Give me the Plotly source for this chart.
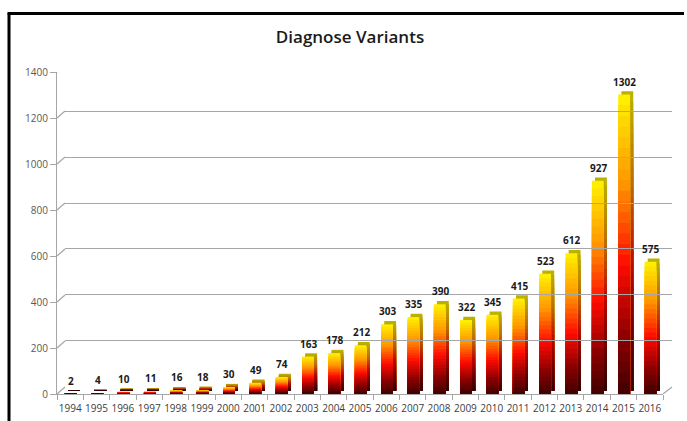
import plotly.graph_objects as go

years = list(range(1994, 2017))
counts = [2, 4, 10, 11, 16, 18, 30, 49, 74, 163, 178, 212, 303, 335, 390, 322, 345, 415, 523, 612, 927, 1302, 575]
y_ticks = [0, 200, 400, 600, 800, 1000, 1200, 1400]
title_text = "Diagnose Variants"

W, H = 687, 421
N = 28  # gradient steps

front_stops = [(0.0, (58, 0, 0)), (0.2, (135, 0, 0)), (0.45, (255, 12, 0)),
               (0.72, (255, 150, 0)), (1.0, (255, 238, 0))]


def grad(f, stops, k=1.0):
    for (f0, c0), (f1, c1) in zip(stops[:-1], stops[1:]):
        if f0 <= f <= f1:
            t = (f - f0) / (f1 - f0)
            c = [int((a + (b - a) * t) * k) for a, b in zip(c0, c1)]
            return "rgb(%d,%d,%d)" % tuple(c)
    c = stops[-1][1]
    return "rgb(%d,%d,%d)" % tuple(int(v * k) for v in c)


fig = go.Figure()

BW = 0.45
FRONT_OFF = -0.2
SIDE_OFF = FRONT_OFF + 0.12
SIDE_BASE = 14

# side (depth) faces
for i in range(N):
    f = (N - i) / N
    fig.add_trace(go.Bar(
        x=years, y=[v * f for v in counts], base=SIDE_BASE,
        width=BW, offset=SIDE_OFF,
        marker=dict(color=grad(f, front_stops, 0.74), line=dict(width=0)),
        hoverinfo="skip", showlegend=False))

# front faces
for i in range(N):
    f = (N - i) / N
    fig.add_trace(go.Bar(
        x=years, y=[v * f for v in counts],
        width=BW, offset=FRONT_OFF,
        marker=dict(color=grad(f, front_stops), line=dict(width=0)),
        hoverinfo="skip", showlegend=False))

# invisible trace for back-plane grid axes
fig.add_trace(go.Scatter(x=[0.5], y=[0], xaxis="x2", yaxis="y2", mode="markers",
                         marker=dict(opacity=0), hoverinfo="skip", showlegend=False))

annotations = [dict(x=yr, y=v, xref="x", yref="y", text="<b>%d</b>" % v, showarrow=False,
                    yshift=13, xshift=1, font=dict(family="Open Sans", size=10, color="#1a1a1a"))
               for yr, v in zip(years, counts)]

shapes = []
# 3D diagonal connectors on left wall
for v in y_ticks:
    shapes.append(dict(type="line", xref="paper", yref="y", xsizemode="pixel", ysizemode="pixel",
                       xanchor=57 / W, yanchor=v, x0=0, x1=8, y0=0, y1=7,
                       line=dict(color="#a6a6a6", width=1.2)))
# right floor diagonal
shapes.append(dict(type="line", xref="paper", yref="y", xsizemode="pixel", ysizemode="pixel",
                   xanchor=663 / W, yanchor=0, x0=0, x1=9, y0=0, y1=7,
                   line=dict(color="#a6a6a6", width=1.2)))
# outer frame (left and top edges)
shapes.append(dict(type="line", xref="paper", yref="paper", x0=9 / W, x1=9 / W,
                   y0=-0.05, y1=1 - 13.5 / H, line=dict(color="black", width=3)))
shapes.append(dict(type="line", xref="paper", yref="paper", x0=7.5 / W, x1=684 / W,
                   y0=1 - 13.5 / H, y1=1 - 13.5 / H, line=dict(color="black", width=3)))

fig.update_layout(
    width=W, height=H,
    margin=dict(l=0, r=0, t=0, b=0, pad=0, autoexpand=False),
    paper_bgcolor="white", plot_bgcolor="rgba(0,0,0,0)",
    barmode="overlay",
    title=dict(text=title_text, x=350 / W, xanchor="center", y=1 - 37 / H, yanchor="middle",
               font=dict(family="Open Sans", size=17, color="#1a1a1a", weight=600)),
    xaxis=dict(domain=[57 / W, 663 / W], anchor="y", range=[1993.5, 2016.5],
               tickvals=years, ticks="", ticklen=0, ticklabelstandoff=5,
               showline=True, linecolor="#a6a6a6", linewidth=1.2,
               minor=dict(tick0=1993.5, dtick=1, ticks="outside", ticklen=5,
                          tickcolor="#a6a6a6", showgrid=False),
               tickfont=dict(family="Open Sans", size=10, color="#404040"),
               tickangle=0, showgrid=False, zeroline=False),
    yaxis=dict(domain=[(H - 394) / H, (H - 72) / H], range=[0, 1400], anchor="x",
               tickvals=y_ticks, showgrid=False, zeroline=False,
               showline=True, linecolor="#a6a6a6", linewidth=1.2,
               ticks="outside", ticklen=6, tickcolor="#a6a6a6",
               tickfont=dict(family="Open Sans", size=10, color="#595959")),
    xaxis2=dict(domain=[65 / W, 672 / W], anchor="y2", range=[0, 1], visible=False),
    yaxis2=dict(domain=[(H - 387) / H, (H - 65) / H], range=[-0.5, 1400.5], anchor="x2",
                tickvals=y_ticks, showgrid=True, gridcolor="#a6a6a6", gridwidth=1.2,
                showticklabels=False, zeroline=False, showline=False, ticks=""),
    annotations=annotations,
    shapes=shapes,
)

fig.write_html("out.html", config={"displayModeBar": False},
               post_script="document.body.style.margin='0';document.body.style.overflow='hidden';")
